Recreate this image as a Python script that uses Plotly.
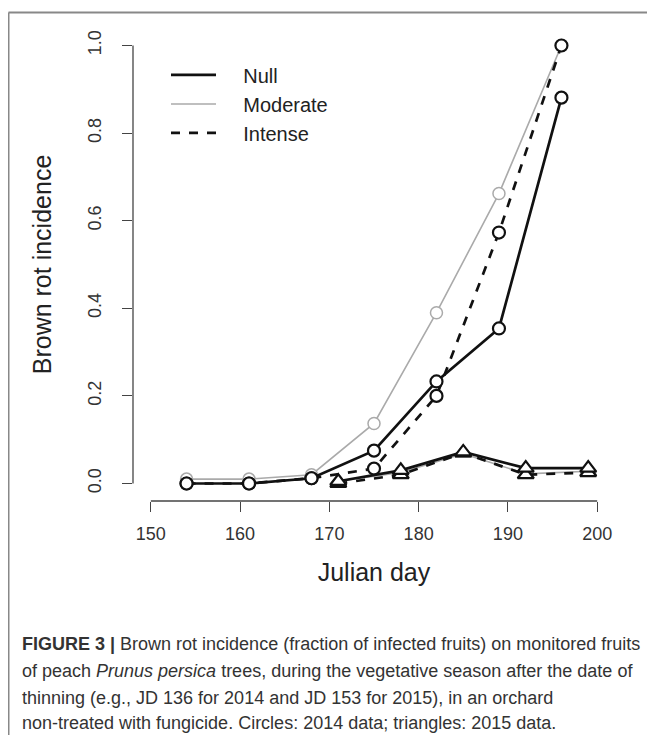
import plotly.graph_objects as go

# 2014 survey (circles)
days_2014 = [154, 161, 168, 175, 182, 189, 196]
null_2014 = [0.0, 0.0, 0.012, 0.075, 0.233, 0.354, 0.881]
moderate_2014 = [0.01, 0.01, 0.02, 0.137, 0.39, 0.662, 1.0]
intense_2014 = [0.0, 0.0, 0.012, 0.034, 0.2, 0.573, 1.0]

# 2015 survey (triangles)
days_2015 = [171, 178, 185, 192, 199]
null_2015 = [0.005, 0.03, 0.072, 0.035, 0.035]
moderate_2015 = [0.005, 0.025, 0.068, 0.022, 0.028]
intense_2015 = [0.0, 0.02, 0.07, 0.02, 0.025]

x_ticks = [150, 160, 170, 180, 190, 200]
y_ticks = [0.0, 0.2, 0.4, 0.6, 0.8, 1.0]
y_tick_labels = ["0.0", "0.2", "0.4", "0.6", "0.8", "1.0"]

caption_lines = [
    "<b>FIGURE 3 |</b> Brown rot incidence (fraction of infected fruits) on monitored fruits",
    "of peach <i>Prunus persica</i> trees, during the vegetative season after the date of",
    "thinning (e.g., JD 136 for 2014 and JD 153 for 2015), in an orchard",
    "non-treated with fungicide. Circles: 2014 data; triangles: 2015 data.",
]

font = "Liberation Sans, Arial, sans-serif"

# page has an 8px body margin, so the figure is drawn 8px in
W, H = 647, 727
L, T, PW, PH = 125, 19.5, 482, 474


def px(x_page, y_page):
    # page pixel -> paper coords
    return (x_page - 8 - L) / PW, (T + PH - (y_page - 8)) / PH


# name, colour, line width, dash
styles = [
    ("Moderate", "#aaaaaa", 1.6, "solid"),
    ("Intense", "#111111", 2.7, "dash"),
    ("Null", "#111111", 2.7, "solid"),
]
series_2014 = {"Null": null_2014, "Moderate": moderate_2014, "Intense": intense_2014}
series_2015 = {"Null": null_2015, "Moderate": moderate_2015, "Intense": intense_2015}

fig = go.Figure()

for name, col, lw, dash in styles:
    mlw = 1.5 if col == "#aaaaaa" else 2.2
    fig.add_trace(go.Scatter(
        x=days_2014, y=series_2014[name], mode="lines+markers",
        line=dict(color=col, width=lw, dash=dash),
        marker=dict(symbol="circle", size=12, color="white",
                    line=dict(color=col, width=mlw)),
        showlegend=False,
    ))
    fig.add_trace(go.Scatter(
        x=days_2015, y=series_2015[name], mode="lines+markers",
        line=dict(color=col, width=lw, dash=dash),
        marker=dict(symbol="triangle-up", size=14, color="white",
                    line=dict(color=col, width=mlw)),
        showlegend=False,
    ))

# legend entries (lines only); nbsp pads the gap between key and label
pad = "\u00a0" * 4
for name in ["Null", "Moderate", "Intense"]:
    col, lw, dash = [(c, w, d) for n, c, w, d in styles if n == name][0]
    fig.add_trace(go.Scatter(
        x=[None], y=[None], mode="lines", name=pad + name,
        line=dict(color=col, width=lw, dash=dash),
    ))

# R-style detached axis lines
fig.add_shape(type="line", xref="x", yref="paper", x0=x_ticks[0], x1=x_ticks[-1],
              y0=0, y1=0, line=dict(color="#444444", width=1.3))
fig.add_shape(type="line", xref="paper", yref="y", x0=0, x1=0,
              y0=y_ticks[0], y1=y_ticks[-1], line=dict(color="#444444", width=1.3))

# outer frame
fx, fy = px(8.5, 12)
fig.add_shape(type="line", xref="paper", yref="paper", x0=fx, x1=1.2,
              y0=fy, y1=fy, line=dict(color="#888888", width=2))
fig.add_shape(type="line", xref="paper", yref="paper", x0=fx, x1=fx,
              y0=fy, y1=-0.6, line=dict(color="#888888", width=2))

caption_y = [645, 672, 699, 724]
for txt, py in zip(caption_lines, caption_y):
    cx, cy = px(20, py)
    fig.add_annotation(
        text=txt, xref="paper", yref="paper", x=cx, y=cy,
        xanchor="left", yanchor="middle", showarrow=False,
        font=dict(family=font, size=18, color="#333333"),
    )

lx, ly = px(166, 55)
fig.update_layout(
    width=W, height=H,
    margin=dict(l=L, r=W - L - PW, t=T, b=H - T - PH),
    paper_bgcolor="white", plot_bgcolor="white",
    font=dict(family=font, color="#222222"),
    showlegend=True,
    legend=dict(x=lx, y=ly, xanchor="left", yanchor="top",
                font=dict(size=20, family=font, color="#222222"),
                bgcolor="rgba(0,0,0,0)", itemwidth=45),
    xaxis=dict(
        range=[148, 202], tickvals=x_ticks, ticks="outside", ticklen=10,
        tickcolor="#444444", tickwidth=1.3, showline=False, showgrid=False,
        zeroline=False, tickfont=dict(size=18, color="#333333"), ticklabelstandoff=6,
        title=dict(text="Julian day", font=dict(size=25), standoff=20),
    ),
    yaxis=dict(
        range=[-0.04, 1.04], tickvals=y_ticks, ticktext=y_tick_labels,
        ticks="outside", ticklen=10, tickcolor="#444444", tickwidth=1.3,
        showline=False, showgrid=False, zeroline=False, tickangle=-90,
        tickfont=dict(size=18, color="#333333"), ticklabelstandoff=14,
        title=dict(text="Brown rot incidence", font=dict(size=25), standoff=26),
    ),
)

fig.write_html("out.html")
